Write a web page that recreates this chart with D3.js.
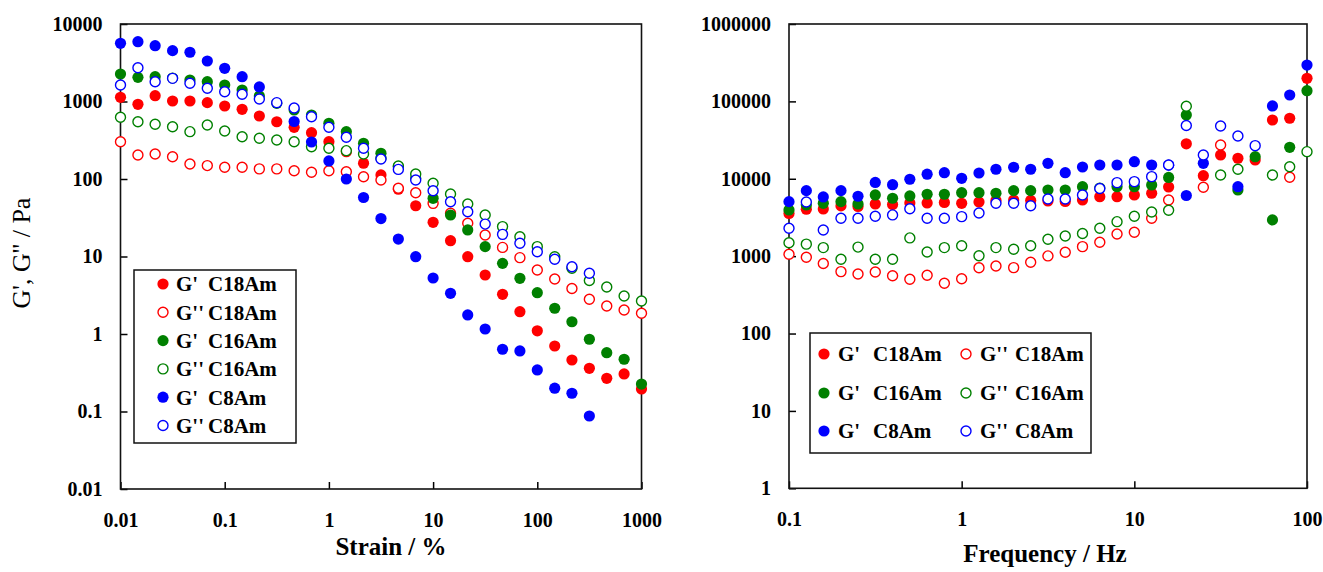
<!DOCTYPE html>
<html>
<head>
<meta charset="utf-8">
<script src="https://cdn.jsdelivr.net/npm/d3@7"></script>
<style>
  html, body { margin: 0; padding: 0; background: #fff; }
  svg text { font-family: "Liberation Serif", "Times New Roman", serif; fill: #000; }
  .tick-label { font-size: 20px; font-weight: bold; }
  .x-title { font-size: 25px; font-weight: bold; }
  .y-title { font-size: 26px; }
  .legend-text { font-size: 21px; font-weight: bold; white-space: pre; }
</style>
</head>
<body>
<svg id="chart" width="1323" height="572"></svg>
<script>
// Strain sweep (left panel), strain in %
const strain = [0.01, 0.0147, 0.0215, 0.0316, 0.0464, 0.0681, 0.1, 0.147, 0.215, 0.316, 0.464, 0.681,
  1, 1.47, 2.15, 3.16, 4.64, 6.81, 10, 14.7, 21.5, 31.6, 46.4, 68.1, 100, 147, 215, 316, 464, 681, 1000];
const strainGpC18 = [1133, 920, 1188, 1015, 1015, 966, 875, 793, 650, 548, 464, 396, 303, 225, 160, 113,
  73.7, 45.2, 27.6, 16.0, 9.94, 5.77, 3.25, 1.94, 1.10, 0.70, 0.462, 0.361, 0.268, 0.305, 0.195];
const strainGppC18 = [303, 204, 210, 194, 156, 149, 142, 142, 135, 135, 128, 122, 128, 124, 107, 97,
  75.9, 66.6, 48.5, 36.1, 26.8, 18.9, 13.1, 9.66, 6.70, 5.13, 3.87, 2.81, 2.30, 2.04, 1.85];
const strainGpC16 = [2265, 2050, 2090, 2010, 1890, 1800, 1630, 1406, 1177, 948, 777, 669, 523, 408, 289, 215,
  144, 102, 56.4, 34.3, 22.0, 13.4, 8.16, 5.23, 3.41, 2.15, 1.44, 0.855, 0.574, 0.472, 0.226];
const strainGppC16 = [625, 548, 508, 473, 408, 498, 416, 351, 335, 319, 303, 261, 249, 232, 210, 185,
  147, 116, 88, 64, 47.5, 34.3, 24.3, 18.0, 13.4, 9.94, 7.04, 4.90, 4.04, 3.09, 2.67];
const strainGpC8 = [5640, 5910, 5250, 4530, 4320, 3330, 2680, 2090, 1540, null, 552, 300, 171, 100, 57.7, 30.9,
  16.8, 9.94, 5.28, 3.35, 1.76, 1.16, 0.636, 0.604, 0.344, 0.2, 0.172, 0.0875, null, null, null];
const strainGppC8 = [1633, 2730, 1800, 1990, 1717, 1480, 1338, 1238, 1076, 966, 825, 637, 465, 345, 249, 181,
  133, 97, 70.6, 50.9, 37.8, 26.2, 19.3, 14.8, 11.5, 9.2, 7.38, 6.07, null, null, null];

// Frequency sweep (right panel), frequency in Hz
const freq = [0.1, 0.126, 0.158, 0.2, 0.251, 0.316, 0.398, 0.501, 0.631, 0.794, 1, 1.26, 1.58, 2, 2.51, 3.16,
  3.98, 5.01, 6.31, 7.94, 10, 12.6, 15.8, 20, 25.1, 31.6, 39.8, 50.1, 63.1, 79.4, 100];
const freqGpC18 = [3560, 4040, 4070, 4460, 4390, 4730, 4650, 4870, 4870, 4940, 4820, 5010, 5250, 5320, 5250, 5170,
  5090, 5320, 5870, 5870, 6180, 6500, 7830, 28300, 10960, 20300, 18400, 17500, 57500, 60500, 198700];
const freqGppC18 = [1060, 968, 802, 631, 589, 625, 558, 503, 566, 447, 511, 708, 746, 711, 834, 1007,
  1122, 1327, 1513, 1937, 2037, 3090, 5320, null, 7760, 27300, null, null, null, 10450, null];
const freqGpC16 = [3950, 4580, 4820, 5060, 4730, 6180, 5600, 6000, 6310, 6310, 6610, 6610, 6500, 7020, 7020, 7160,
  7160, 7900, 7600, 7900, 7900, 8320, 10400, 66700, null, null, 7160, 19300, 2940, 25500, 137500];
const freqGppC16 = [1490, 1430, 1290, 912, 1310, 912, 912, 1720, 1130, 1290, 1360, 1010, 1290, 1230, 1360, 1650,
  1820, 1960, 2290, 2790, 3280, 3720, 3920, 86500, null, 11190, 13270, null, 11190, 14330, 22400];
const freqGpC8 = [5060, 7020, 5820, 7020, 5940, 8960, 8390, 9860, 11460, 11970, 10140, 11880, 13270, 14090, 13270, 15850,
  11970, 14190, 15070, 15070, 16630, 15070, 15000, 6080, 15850, null, 7900, null, 87300, 121000, 295000];
const freqGppC8 = [2290, 5010, 2180, 3090, 3090, 3280, 3410, 4090, 3090, 3090, 3240, 3610, 4820, 4820, 4490, 5480,
  5480, 6180, 7500, 8910, 9180, 10650, 15070, 48800, 20300, 48100, 35700, 26800, null, null, null];

// Tick values
const strainTicks = [0.01, 0.1, 1, 10, 100, 1000];
const strainModTicks = [0.01, 0.1, 1, 10, 100, 1000, 10000];
const freqTicks = [0.1, 1, 10, 100];
const freqModTicks = [1, 10, 100, 1000, 10000, 100000, 1000000];

const RED = '#ff0000', GREEN = '#008000', BLUE = '#0000ff';

function makeSeries(gp18, gpp18, gp16, gpp16, gp8, gpp8) {
  return [
    { label: "G'", name: 'C18Am', values: gp18, color: RED, filled: true },
    { label: "G''", name: 'C18Am', values: gpp18, color: RED, filled: false },
    { label: "G'", name: 'C16Am', values: gp16, color: GREEN, filled: true },
    { label: "G''", name: 'C16Am', values: gpp16, color: GREEN, filled: false },
    { label: "G'", name: 'C8Am', values: gp8, color: BLUE, filled: true },
    { label: "G''", name: 'C8Am', values: gpp8, color: BLUE, filled: false }
  ];
}

const svg = d3.select('#chart');
svg.append('rect').attr('width', 1323).attr('height', 572).attr('fill', '#fff');

// Left panel: strain sweep
drawPanel({
  xValues: strain, xDomain: [0.01, 1000], yDomain: [0.01, 10000],
  xTicks: strainTicks, yTicks: strainModTicks,
  left: 120.5, right: 641.5, top: 24, bottom: 489,
  xTitle: 'Strain / %', xTitleX: 391, xTitleY: 555,
  yTitle: "G', G'' / Pa", yTitleX: 30, yTitleY: 253,
  series: makeSeries(strainGpC18, strainGppC18, strainGpC16, strainGppC16, strainGpC8, strainGppC8),
  legend: { box: [134, 270, 162, 173], items: [
    [163, 284], [163, 312.3], [163, 340.6], [163, 368.9], [163, 397.2], [163, 425.5]
  ], labelDx: 13, nameDx: 45 }
});

// Right panel: frequency sweep
drawPanel({
  xValues: freq, xDomain: [0.1, 100], yDomain: [1, 1000000],
  xTicks: freqTicks, yTicks: freqModTicks,
  left: 789, right: 1307, top: 24, bottom: 488.3,
  xTitle: 'Frequency / Hz', xTitleX: 1045, xTitleY: 562,
  series: makeSeries(freqGpC18, freqGppC18, freqGpC16, freqGppC16, freqGpC8, freqGppC8),
  legend: { box: [810, 333, 281, 120], items: [
    [824, 354], [966, 354], [824, 393], [966, 393], [824, 431], [966, 431]
  ], labelDx: 14, nameDx: 49 }
});

function drawPanel(p) {
  const x = d3.scaleLog().domain(p.xDomain).range([p.left, p.right]);
  const y = d3.scaleLog().domain(p.yDomain).range([p.bottom, p.top]);
  const g = svg.append('g');

  // Axes with inward ticks, domain line replaced by the frame
  const xAxis = g.append('g')
    .attr('transform', `translate(0,${p.bottom})`)
    .call(d3.axisBottom(x).tickValues(p.xTicks).tickFormat(String).tickSize(-7).tickPadding(24));
  const yAxis = g.append('g')
    .attr('transform', `translate(${p.left},0)`)
    .call(d3.axisLeft(y).tickValues(p.yTicks).tickFormat(String).tickSize(-7).tickPadding(18));
  [xAxis, yAxis].forEach(a => {
    a.select('.domain').remove();
    a.attr('font-size', null).attr('font-family', null);
    a.selectAll('.tick line').attr('stroke', '#000').attr('stroke-width', 1.5);
    a.selectAll('.tick text').attr('class', 'tick-label');
  });

  g.append('rect')
    .attr('x', p.left).attr('y', p.top)
    .attr('width', p.right - p.left).attr('height', p.bottom - p.top)
    .attr('fill', 'none').attr('stroke', '#111').attr('stroke-width', 1.6);

  // Axis titles
  g.append('text').attr('class', 'x-title')
    .attr('x', p.xTitleX).attr('y', p.xTitleY).attr('text-anchor', 'middle')
    .text(p.xTitle);
  if (p.yTitle) {
    g.append('text').attr('class', 'y-title')
      .attr('transform', `translate(${p.yTitleX},${p.yTitleY}) rotate(-90)`)
      .attr('text-anchor', 'middle')
      .text(p.yTitle);
  }

  // Data markers, drawn in series order
  p.series.forEach(s => {
    const pts = p.xValues.map((xv, i) => [xv, s.values[i]]).filter(d => d[1] != null);
    g.append('g').selectAll('circle')
      .data(pts)
      .enter()
      .append('circle')
      .attr('cx', d => x(d[0]))
      .attr('cy', d => y(d[1]))
      .call(marker, s);
  });

  // Legend
  const lg = g.append('g');
  const b = p.legend.box;
  lg.append('rect').attr('x', b[0]).attr('y', b[1]).attr('width', b[2]).attr('height', b[3])
    .attr('fill', '#fff').attr('stroke', '#111').attr('stroke-width', 1.5);
  p.series.forEach((s, i) => {
    const [mx, my] = p.legend.items[i];
    lg.append('circle').attr('cx', mx).attr('cy', my).call(marker, s);
    const t = lg.append('text').attr('class', 'legend-text').attr('y', my).attr('dy', '0.35em');
    t.append('tspan').attr('x', mx + p.legend.labelDx).text(s.label);
    t.append('tspan').attr('x', mx + p.legend.nameDx).text(s.name);
  });
}

function marker(sel, s) {
  if (s.filled) {
    sel.attr('r', 5.6).attr('fill', s.color).attr('stroke', 'none');
  } else {
    sel.attr('r', 5).attr('fill', '#fff').attr('stroke', s.color).attr('stroke-width', 1.4);
  }
}
</script>
</body>
</html>
